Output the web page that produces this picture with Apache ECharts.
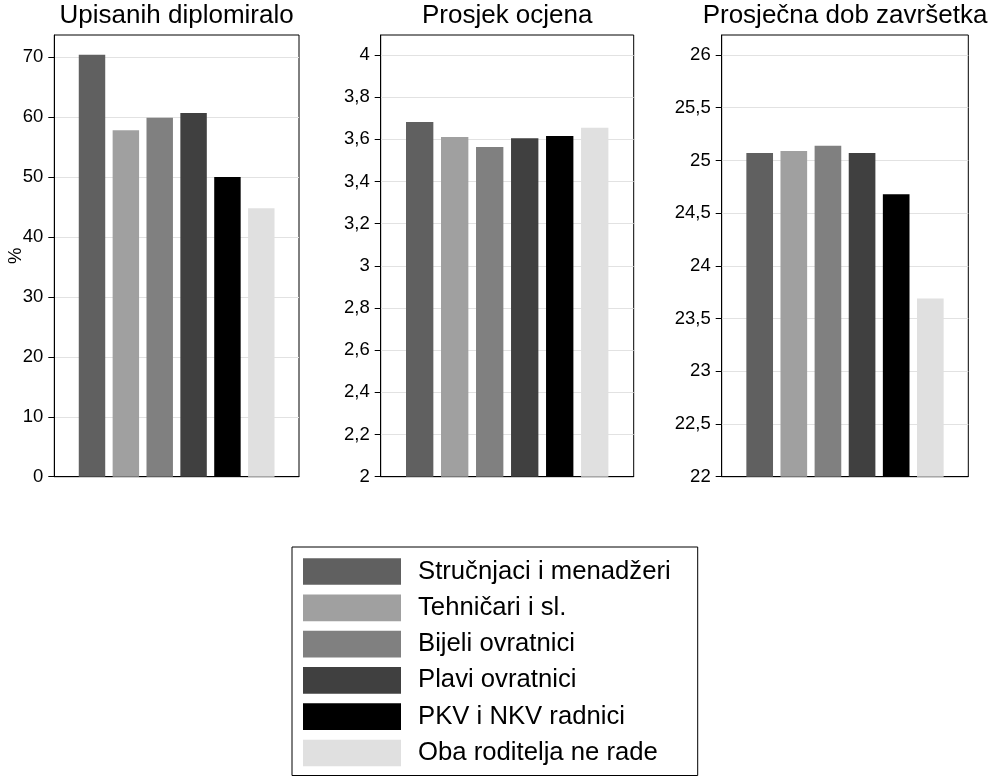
<!DOCTYPE html>
<html>
<head>
<meta charset="utf-8">
<script src="https://cdn.jsdelivr.net/npm/echarts@6/dist/echarts.min.js"></script>
<style>
html,body{margin:0;padding:0;background:#fff;}
#c{width:1001px;height:776px;}
</style>
</head>
<body>
<div id="c"></div>
<script>
// ---- data ----
const groups = ['Stručnjaci i menadžeri', 'Tehničari i sl.', 'Bijeli ovratnici', 'Plavi ovratnici', 'PKV i NKV radnici', 'Oba roditelja ne rade'];
const groupColors = ['#606060', '#a0a0a0', '#808080', '#404040', '#000000', '#e0e0e0'];
const panelTitles = ['Upisanih diplomiralo', 'Prosjek ocjena', 'Prosječna dob završetka'];
const upisaniValues = [70.4, 57.8, 59.9, 60.7, 50.0, 44.8];
const prosjekValues = [3.682, 3.611, 3.564, 3.605, 3.616, 3.655];
const dobValues = [25.07, 25.09, 25.14, 25.07, 24.68, 23.69];
const ticks1 = [0, 10, 20, 30, 40, 50, 60, 70];
const ticks2 = [2, 2.2, 2.4, 2.6, 2.8, 3, 3.2, 3.4, 3.6, 3.8, 4];
const ticks3 = [22, 22.5, 23, 23.5, 24, 24.5, 25, 25.5, 26];

const panelValues = [upisaniValues, prosjekValues, dobValues];
const panelTicks = [ticks1, ticks2, ticks3];
const panelMin = [0, 2, 22];
const panelMax = [73.7, 4.095, 26.19];
const panelInterval = [10, 0.2, 0.5];

const FONT = 'Liberation Sans, Arial, sans-serif';
const grids = [
  {left: 54.3, top: 35, width: 244.7, height: 441.7},
  {left: 380.7, top: 35, width: 253, height: 441.7},
  {left: 721.7, top: 35, width: 246.6, height: 441.7}
];

const fmt = v => String(Math.round(v * 1000) / 1000).replace('.', ',');

const option = {
  animation: false,
  backgroundColor: '#fff',
  textStyle: {fontFamily: FONT},
  title: panelTitles.map((t, i) => ({
    text: t,
    left: grids[i].left + grids[i].width / 2,
    top: 3,
    textAlign: 'center',
    padding: 0,
    textStyle: {fontFamily: FONT, fontSize: 26, fontWeight: 'normal', color: '#000'}
  })),
  grid: grids.map(g => Object.assign({show: true, borderColor: '#000', borderWidth: 1, backgroundColor: 'transparent'}, g)),
  xAxis: grids.map((g, i) => ({
    type: 'category', gridIndex: i, data: [''],
    axisLine: {show: true, lineStyle: {color: '#000', width: 1}},
    axisTick: {show: false}, axisLabel: {show: false}, splitLine: {show: false}
  })),
  yAxis: grids.map((g, i) => ({
    type: 'value', gridIndex: i,
    min: panelMin[i], max: panelMax[i], interval: panelInterval[i],
    name: i === 0 ? '%' : '',
    nameLocation: 'middle', nameGap: 29, nameRotate: 90, nameMoveOverlap: false,
    nameTextStyle: {fontFamily: FONT, fontSize: 18.5, color: '#000'},
    axisLine: {show: true, lineStyle: {color: '#000', width: 1}},
    axisTick: {show: true, length: 6, lineStyle: {color: '#000'}, customValues: panelTicks[i]},
    axisLabel: {show: true, margin: 11, fontFamily: FONT, fontSize: 18.5, color: '#000',
      customValues: panelTicks[i], formatter: fmt},
    splitLine: {show: true, lineStyle: {color: '#e2e2e2', width: 1}}
  })),
  legend: {
    orient: 'vertical',
    left: 292, top: 547,
    data: groups,
    itemWidth: 98, itemHeight: 26.7, itemGap: 9.3,
    padding: [11, 27, 9, 11],
    borderColor: '#000', borderWidth: 1,
    backgroundColor: '#fff',
    icon: 'rect',
    selectedMode: false,
    textStyle: {fontFamily: FONT, fontSize: 25.7, color: '#000', padding: [0, 0, 0, 12], lineHeight: 27}
  },
  series: []
};

panelValues.forEach((vals, p) => {
  groups.forEach((name, k) => {
    option.series.push({
      type: 'bar', name: name,
      xAxisIndex: p, yAxisIndex: p,
      data: [vals[k]],
      barCategoryGap: '20%', barGap: '28%',
      itemStyle: {color: groupColors[k]},
      emphasis: {disabled: true}
    });
  });
});

const chart = echarts.init(document.getElementById('c'), null, {renderer: 'canvas'});
chart.setOption(option);
</script>
</body>
</html>
